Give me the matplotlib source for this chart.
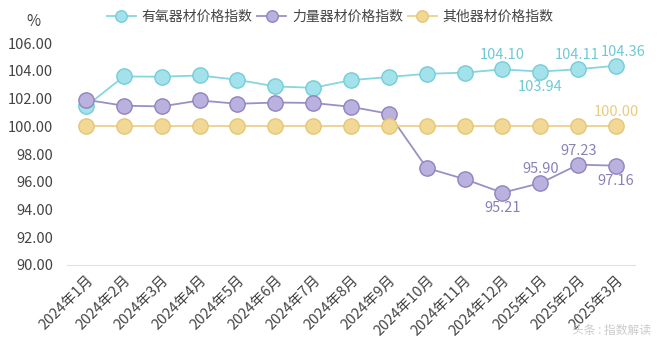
import numpy as np
import matplotlib
matplotlib.use('Agg')
import matplotlib.pyplot as plt

plt.rcParams['font.family'] = ['Noto Sans CJK SC', 'DejaVu Sans']

months = ['2024年1月', '2024年2月', '2024年3月', '2024年4月', '2024年5月', '2024年6月',
          '2024年7月', '2024年8月', '2024年9月', '2024年10月', '2024年11月', '2024年12月',
          '2025年1月', '2025年2月', '2025年3月']
aerobic = [101.43, 103.59, 103.57, 103.66, 103.35, 102.87, 102.77, 103.32, 103.55,
           103.78, 103.86, 104.10, 103.94, 104.11, 104.36]
strength = [101.91, 101.48, 101.43, 101.86, 101.62, 101.71, 101.68, 101.40, 100.90,
            96.99, 96.19, 95.21, 95.90, 97.23, 97.16]
other = [100.00] * 15
names = ['有氧器材价格指数', '力量器材价格指数', '其他器材价格指数']

# which points get a value label: (index, above?, x nudge in pt)
aerobic_lbl = [(11, True, 0), (12, False, 0), (13, True, -1), (14, True, 5)]
strength_lbl = [(11, False, 0), (12, True, 0), (13, True, 0), (14, False, 0)]
other_lbl = [(14, True, 0)]

fig = plt.figure(figsize=(6.6, 3.49), dpi=100)
ax = fig.add_axes([67 / 660, 1 - 265 / 349, 568 / 660, 222 / 349])

x = np.arange(len(months))
styles = [
    (aerobic, '#86d6e0', '#a3e2ea', '#74cdd8', '#6fcad6', aerobic_lbl),
    (strength, '#9a90c6', '#bab1de', '#8f84c0', '#8a80b8', strength_lbl),
    (other, '#eed08a', '#f1d894', '#e6c676', '#e8cc7e', other_lbl),
]
handles = []
for (vals, lc, fc, ec, tc, lbls), name in zip(styles, names):
    h, = ax.plot(x, vals, color=lc, lw=1.3, marker='o', ms=11, mfc=fc, mec=ec,
                 mew=1.0, label=name)
    handles.append(h)
    for i, up, dx in lbls:
        ax.annotate(f'{vals[i]:.2f}', (x[i], vals[i]), xytext=(dx, 5 if up else -6),
                    textcoords='offset points', ha='center',
                    va='bottom' if up else 'top', color=tc, fontsize=10.5)

ax.set_xlim(-0.5, len(months) - 0.5)
ax.set_ylim(90, 106)
ax.set_yticks(np.arange(90, 107, 2))
ax.set_yticklabels([f'{v:.2f}' for v in np.arange(90, 107, 2)])
ax.set_xticks(x)
ax.set_xticklabels(months, rotation=45, ha='right', rotation_mode='anchor')
for s in ['top', 'right', 'left']:
    ax.spines[s].set_visible(False)
ax.spines['bottom'].set_color('#e0e0e0')
ax.tick_params(axis='both', length=0, labelsize=10.5, colors='#444444')
ax.tick_params(axis='y', pad=10)
ax.tick_params(axis='x', pad=6)

fig.text(33 / 660, 1 - 21 / 349, '%', ha='center', va='center', fontsize=11, color='#444444')

fig.legend(handles=handles, loc='center', bbox_to_anchor=(330 / 660, 1 - 17 / 349),
           ncol=3, frameon=False, fontsize=10, handlelength=2.1, handletextpad=0.4,
           columnspacing=0.35, labelcolor='#444444', markerscale=0.75)

fig.text(612 / 660, 1 - 330 / 349, '头条 : 指数解读', ha='center', va='center',
         fontsize=8.5, color='#cccccc')

fig.savefig('out.png', dpi=100)
